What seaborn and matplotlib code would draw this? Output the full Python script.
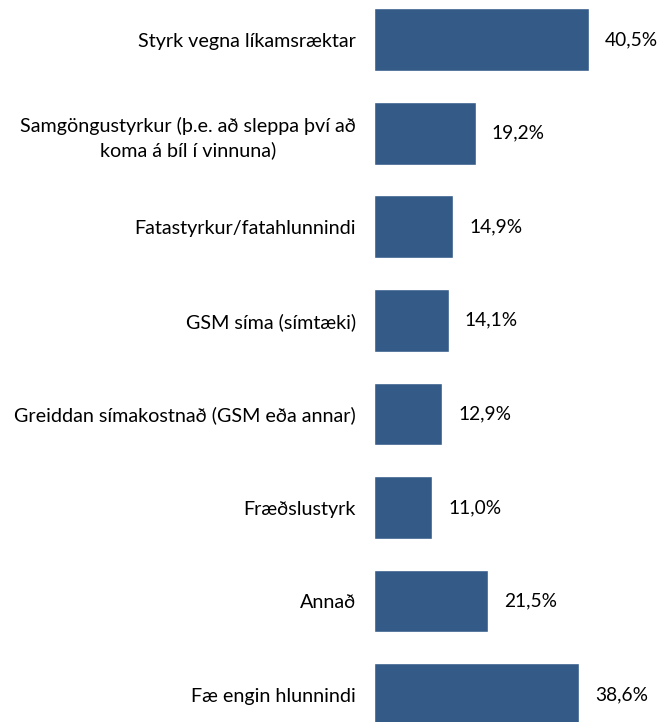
import matplotlib
matplotlib.use('Agg')
import matplotlib.pyplot as plt
import pandas as pd
import seaborn as sns

categories = [
    'Styrk vegna líkamsræktar',
    'Samgöngustyrkur (þ.e. að sleppa því að\nkoma á bíl í vinnuna)',
    'Fatastyrkur/fatahlunnindi',
    'GSM síma (símtæki)',
    'Greiddan símakostnað (GSM eða annar)',
    'Fræðslustyrk',
    'Annað',
    'Fæ engin hlunnindi',
]
values = [40.5, 19.2, 14.9, 14.1, 12.9, 11.0, 21.5, 38.6]

sns.set_theme(style='white')
plt.rcParams['font.family'] = ['Lato', 'DejaVu Sans']

df = pd.DataFrame({'cat': categories, 'val': values})

fig = plt.figure(figsize=(6.62, 7.22), dpi=100)
# axes placed so the bars sit where they do in the reference
ax = fig.add_axes([374 / 662, -0.027, 265.5 / 662, 1.037])
sns.barplot(data=df, x='val', y='cat', color='#345a88', saturation=1,
            width=0.67, ax=ax)

ax.set_xlim(0, 50)
ax.set_ylim(7.5, -0.5)
ax.set_xlabel('')
ax.set_ylabel('')
ax.set_xticks([])
for s in ax.spines.values():
    s.set_visible(False)

ax.tick_params(axis='y', length=0, pad=13, labelsize=14.2, colors='black')
for lbl in ax.get_yticklabels():
    lbl.set_multialignment('center')
    lbl.set_linespacing(1.45)

for i, v in enumerate(values):
    ax.text(v + 3, i, f'{v:.1f}%'.replace('.', ','), va='center', ha='left',
            fontsize=13.8, color='black')

fig.savefig('out.png', dpi=100)
